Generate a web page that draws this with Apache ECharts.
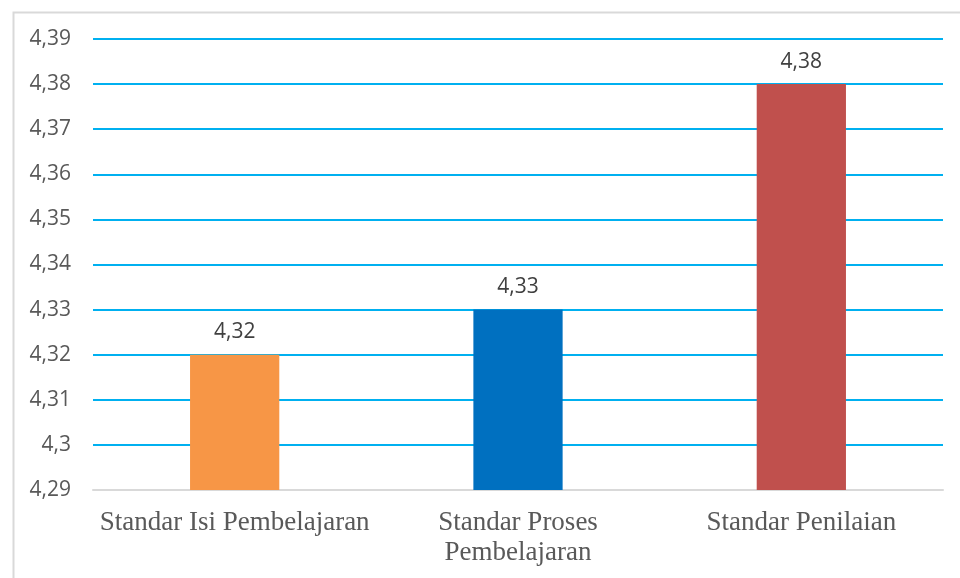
<!DOCTYPE html>
<html>
<head>
<meta charset="utf-8">
<script src="https://cdn.jsdelivr.net/npm/echarts@6/dist/echarts.min.js"></script>
<style>
html,body{margin:0;padding:0;background:#fff;}
#chart{width:960px;height:578px;}
</style>
</head>
<body>
<div id="chart"></div>
<script>
const categories = ['Standar Isi Pembelajaran', 'Standar Proses\nPembelajaran', 'Standar Penilaian'];
const values = [4.32, 4.33, 4.38];
const barColors = ['#F79646', '#0070C0', '#C0504D'];
const yMin = 4.29, yMax = 4.39, yStep = 0.01;

function fmt(v){ return String(Number(v.toFixed(2))).replace('.', ','); }

const chart = echarts.init(document.getElementById('chart'));
chart.setOption({
  animation: false,
  backgroundColor: '#fff',
  graphic: [{
    type: 'rect', left: 11, top: 10, silent: true,
    shape: { width: 1000, height: 620 },
    style: { fill: 'none', stroke: '#D9D9D9', lineWidth: 2 }
  }],
  grid: { left: 93, right: 17, top: 39, bottom: 88 },
  xAxis: {
    type: 'category',
    data: categories,
    axisLine: { lineStyle: { color: '#D9D9D9', width: 2 } },
    axisTick: { show: false },
    axisLabel: {
      color: '#595959', fontFamily: 'Liberation Serif', fontSize: 27,
      margin: 18, lineHeight: 30, interval: 0
    }
  },
  yAxis: {
    type: 'value', min: yMin, max: yMax, interval: yStep,
    axisLine: { show: false }, axisTick: { show: false },
    splitLine: { lineStyle: { color: '#00B0F0', width: 2 } },
    axisLabel: {
      color: '#595959', fontFamily: 'Open Sans', fontSize: 21, margin: 22,
      formatter: fmt
    }
  },
  series: [{
    type: 'bar',
    barWidth: '31.5%',
    data: values.map((v, i) => ({ value: v, itemStyle: { color: barColors[i] } })),
    label: {
      show: true, position: 'top', distance: 12,
      color: '#404040', fontFamily: 'Open Sans', fontSize: 21,
      formatter: p => fmt(p.value)
    }
  }]
});
</script>
</body>
</html>
